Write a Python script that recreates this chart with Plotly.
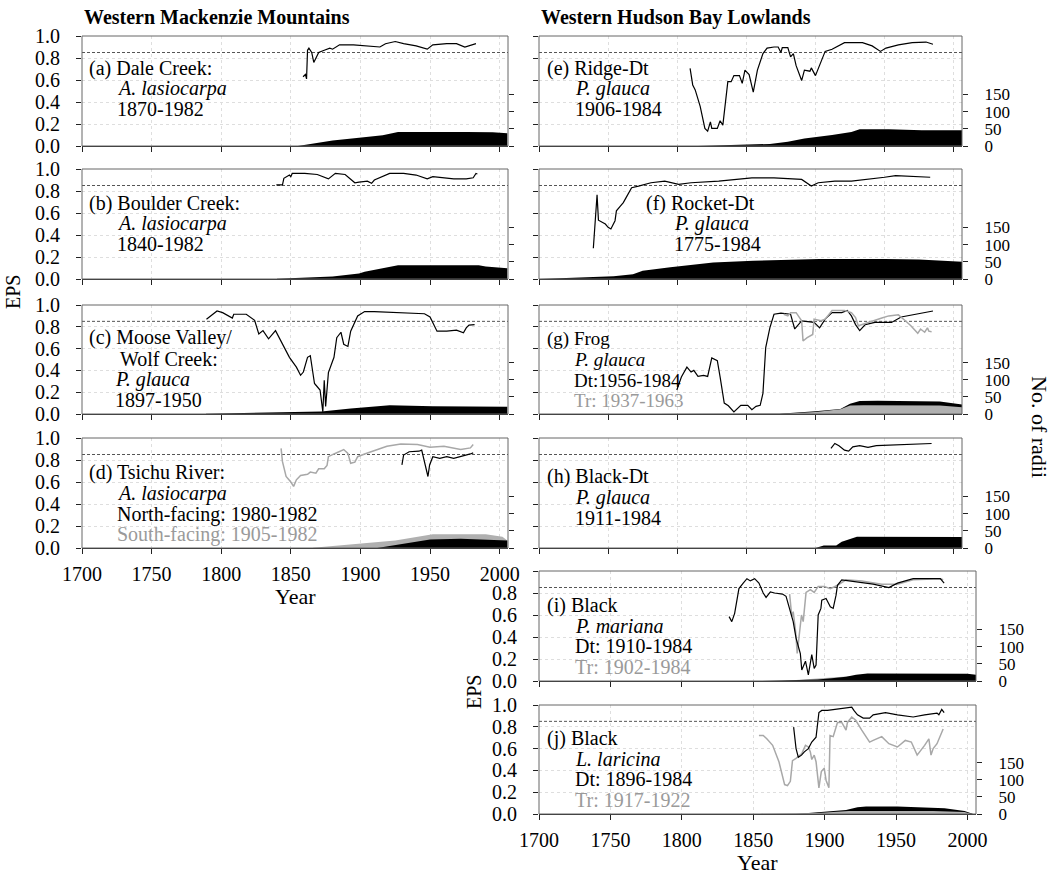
import plotly.graph_objects as go

W, H = 1055, 878
FONT = "Liberation Serif, Times New Roman, serif"

# ---------------- data ----------------
X_TICKS = [1700, 1750, 1800, 1850, 1900, 1950, 2000]
EPS_TICKS = [0.0, 0.2, 0.4, 0.6, 0.8, 1.0]
RADII_TICKS = [0, 50, 100, 150]
THRESHOLD = 0.85

# (a) Dale Creek
yrs_a = [1858.8, 1860.5, 1861.3, 1862, 1863, 1865, 1866.5, 1868, 1870, 1874, 1878, 1880, 1885, 1895, 1905,
         1914, 1918, 1925, 1931, 1940, 1948, 1952, 1962, 1969, 1975, 1983]
eps_a = [0.63, 0.65, 0.61, 0.87, 0.89, 0.85, 0.76, 0.80, 0.85, 0.87, 0.89, 0.88, 0.92, 0.92, 0.91,
         0.90, 0.93, 0.95, 0.93, 0.91, 0.88, 0.92, 0.93, 0.93, 0.90, 0.93]
ryrs_a = [1855, 1868, 1880, 1899, 1916, 1927, 1950, 1976, 1995, 2005.5]
radii_a = [0, 9, 16, 24, 31, 41, 42, 41, 40, 37]

# (b) Boulder Creek
yrs_b = [1839.6, 1844, 1845, 1849, 1850, 1851, 1860, 1869, 1877, 1882, 1889, 1894, 1896, 1899, 1905, 1908,
         1910, 1921, 1931, 1940, 1948, 1952, 1967, 1976, 1981, 1983, 1984]
eps_b = [0.855, 0.855, 0.915, 0.945, 0.93, 0.96, 0.96, 0.95, 0.91, 0.96, 0.95, 0.90, 0.875, 0.88, 0.89, 0.87,
         0.90, 0.96, 0.96, 0.945, 0.91, 0.93, 0.91, 0.91, 0.92, 0.96, 0.955]
ryrs_b = [1840, 1880, 1899, 1903, 1927, 1985, 1990, 2005.5]
radii_b = [1, 7, 16, 21, 40, 40, 36, 31]

# (c) Moose Valley / Wolf Creek
yrs_c = [1789.4, 1797, 1801, 1808, 1809, 1818, 1824, 1827, 1830, 1834, 1839, 1844, 1849, 1854, 1857, 1859,
         1862, 1864, 1865, 1867, 1869, 1871, 1873, 1874, 1875, 1877, 1881, 1883, 1886, 1888, 1891, 1893,
         1898, 1903, 1910, 1929, 1946, 1950, 1955, 1962, 1969, 1974, 1976, 1978, 1982]
eps_c = [0.87, 0.945, 0.93, 0.88, 0.915, 0.915, 0.86, 0.735, 0.765, 0.69, 0.765, 0.64, 0.52, 0.43, 0.355, 0.385,
         0.52, 0.535, 0.45, 0.28, 0.25, 0.22, 0.02, 0.31, 0.07, 0.38, 0.52, 0.70, 0.75, 0.64, 0.62, 0.76,
         0.90, 0.94, 0.94, 0.93, 0.92, 0.89, 0.76, 0.76, 0.77, 0.745, 0.79, 0.815, 0.82]
ryrs_c = [1789, 1836, 1872, 1893, 1921, 1952, 2005.5]
radii_c = [1, 5, 7, 16, 26, 23, 21]

# (d) Tsichu River
yrs_d_south = [1843, 1844, 1846.6, 1850, 1852, 1854, 1857, 1862, 1864, 1868, 1870, 1874, 1876, 1877, 1881,
               1888, 1891, 1893, 1896, 1898, 1903, 1912, 1919, 1929, 1941, 1950, 1960, 1972, 1979, 1981]
eps_d_south = [0.905, 0.785, 0.65, 0.60, 0.56, 0.62, 0.66, 0.67, 0.69, 0.68, 0.72, 0.72, 0.75, 0.83, 0.855,
               0.895, 0.86, 0.77, 0.78, 0.83, 0.855, 0.895, 0.925, 0.945, 0.94, 0.915, 0.925, 0.895, 0.91, 0.94]
yrs_d_north = [1929.8, 1931, 1935, 1942, 1944, 1946, 1948.5, 1949.7, 1952, 1957, 1962, 1967, 1972, 1979, 1981]
eps_d_north = [0.755, 0.845, 0.875, 0.88, 0.89, 0.785, 0.65, 0.755, 0.83, 0.815, 0.83, 0.815, 0.83, 0.855, 0.865]
ryrs_d_south = [1866, 1903, 1925, 1952, 1990, 2002, 2005.5]
radii_d_south = [1, 14, 22, 40, 40, 33, 22]
ryrs_d_north = [1912, 1925, 1941, 1950, 1972, 1990, 2005.5]
radii_d_north = [0, 8, 19, 25, 27, 25, 22]

# (e) Ridge-Dt
yrs_e = [1809.3, 1811.2, 1813, 1816.6, 1820, 1822, 1824, 1825, 1829, 1831, 1833, 1835, 1836.6, 1839, 1841, 1845,
         1847, 1849, 1852, 1855, 1858, 1862, 1865, 1870, 1873, 1875, 1876, 1880, 1882, 1884, 1886, 1890,
         1892, 1896, 1897, 1900, 1903, 1907, 1912, 1921, 1934, 1941, 1947, 1951, 1960, 1970, 1980, 1985]
eps_e = [0.705, 0.555, 0.51, 0.36, 0.16, 0.135, 0.22, 0.16, 0.16, 0.23, 0.19, 0.42, 0.585, 0.585, 0.64, 0.64,
         0.57, 0.69, 0.65, 0.49, 0.69, 0.84, 0.89, 0.90, 0.90, 0.85, 0.895, 0.895, 0.81, 0.84, 0.73, 0.595,
         0.69, 0.68, 0.71, 0.64, 0.73, 0.86, 0.88, 0.94, 0.94, 0.91, 0.86, 0.89, 0.92, 0.94, 0.945, 0.925]
ryrs_e = [1815, 1867, 1880, 1892, 1912, 1921, 1926, 1932, 1953, 1977, 2006]
radii_e = [0, 6, 12, 22, 32, 37, 41, 49, 49, 46, 46]

# (f) Rocket-Dt
yrs_f = [1739.3, 1742, 1743, 1745, 1748, 1750, 1752, 1755, 1756, 1759, 1761, 1763, 1767, 1772, 1781, 1791,
         1801, 1810, 1830, 1854, 1870, 1890, 1897, 1902, 1914, 1926, 1938, 1950, 1958, 1970, 1983]
eps_f = [0.28, 0.765, 0.535, 0.52, 0.50, 0.47, 0.455, 0.53, 0.62, 0.665, 0.695, 0.74, 0.83, 0.845, 0.875, 0.89,
         0.86, 0.875, 0.89, 0.92, 0.92, 0.905, 0.845, 0.875, 0.89, 0.89, 0.905, 0.925, 0.94, 0.935, 0.925]
ryrs_f = [1700, 1734, 1754, 1768, 1775, 1795, 1826, 1855, 1903, 1950, 1975, 2006]
radii_f = [0, 5, 8, 14, 24, 34, 48, 53, 58, 58, 57, 50]

# (g) Frog
yrs_g_dt = [1799.7, 1803, 1807, 1810, 1812, 1815, 1819, 1822, 1825, 1829, 1831, 1834, 1837, 1841, 1846, 1851,
            1854, 1857, 1860, 1862, 1864, 1867, 1870, 1875, 1882, 1885, 1890, 1899, 1903, 1907, 1912, 1919,
            1923, 1926, 1929, 1932, 1936, 1943, 1948, 1955, 1962, 1974, 1985]
eps_g_dt = [0.22, 0.34, 0.43, 0.385, 0.40, 0.345, 0.355, 0.345, 0.515, 0.49, 0.34, 0.10, 0.075, 0.02, 0.08, 0.08,
            0.04, 0.07, 0.08, 0.19, 0.61, 0.79, 0.915, 0.925, 0.915, 0.78, 0.855, 0.84, 0.79, 0.87, 0.93, 0.93,
            0.95, 0.90, 0.82, 0.765, 0.82, 0.84, 0.84, 0.84, 0.89, 0.92, 0.945]
yrs_g_tr = [1877, 1880, 1882, 1886, 1890, 1891, 1894, 1898, 1899, 1904, 1907, 1912, 1921, 1926, 1929, 1931,
            1936, 1943, 1948, 1953, 1960, 1965, 1969, 1974, 1976, 1979, 1981, 1982, 1984]
eps_g_tr = [0.915, 0.90, 0.93, 0.93, 0.855, 0.67, 0.70, 0.73, 0.87, 0.855, 0.87, 0.95, 0.95, 0.93, 0.885, 0.81,
            0.83, 0.855, 0.88, 0.90, 0.91, 0.855, 0.81, 0.74, 0.78, 0.75, 0.79, 0.76, 0.755]
ryrs_g_dt = [1780, 1874, 1900, 1918, 1925, 1932, 1945, 1990, 2006]
radii_g_dt = [0, 1, 8, 15, 30, 38, 39, 37, 28]
ryrs_g_tr = [1874, 1900, 1918, 1925, 1935, 1990, 2006]
radii_g_tr = [0, 6, 14, 25, 26, 25, 20]

# (h) Black-Dt
yrs_h = [1911.2, 1914, 1917, 1921, 1924, 1927, 1932, 1938, 1944, 1963, 1984]
eps_h = [0.905, 0.95, 0.93, 0.89, 0.88, 0.92, 0.93, 0.915, 0.93, 0.94, 0.95]
ryrs_h = [1900, 1906, 1915, 1919, 1930, 2000, 2006]
radii_h = [0, 7, 7, 18, 33, 32, 32]

# (i) Black, P. mariana
yrs_i_dt = [1833.1, 1835, 1837, 1840, 1843, 1845.6, 1848, 1851, 1854, 1857, 1859, 1862, 1865, 1870.5, 1873,
            1876, 1878, 1880, 1883, 1884, 1886.6, 1888.6, 1890, 1891, 1892.7, 1894, 1895.5, 1897.4, 1898,
            1901, 1904, 1906, 1908, 1909, 1912, 1917.7, 1926, 1934, 1945, 1951, 1962, 1973, 1981, 1983.7]
eps_i_dt = [0.585, 0.54, 0.615, 0.84, 0.89, 0.93, 0.91, 0.93, 0.89, 0.80, 0.76, 0.81, 0.80, 0.79, 0.77,
            0.63, 0.54, 0.39, 0.25, 0.10, 0.18, 0.055, 0.145, 0.24, 0.115, 0.145, 0.60, 0.66, 0.735,
            0.75, 0.675, 0.66, 0.78, 0.87, 0.92, 0.91, 0.89, 0.88, 0.85, 0.89, 0.93, 0.93, 0.93, 0.89]
yrs_i_tr = [1875.5, 1877, 1878, 1879.7, 1880.8, 1882, 1883.8, 1885, 1885.8, 1887, 1890, 1892.7, 1895.5,
            1899.7, 1904, 1909, 1915, 1926, 1940, 1951, 1962, 1981, 1983]
eps_i_tr = [0.79, 0.585, 0.63, 0.45, 0.25, 0.39, 0.60, 0.54, 0.63, 0.805, 0.83, 0.805, 0.86,
            0.86, 0.84, 0.87, 0.92, 0.91, 0.88, 0.88, 0.92, 0.93, 0.92]
ryrs_i_dt = [1855, 1880, 1895, 1905, 1915, 1922, 1930, 2000, 2006]
radii_i_dt = [0, 2, 4, 8, 12, 18, 22, 21, 18]
ryrs_i_tr = [1870, 1890, 1900, 1915, 1925, 1950, 2000, 2006]
radii_i_tr = [0, 6, 10, 14, 16, 17, 16, 14]

# (j) Black, L. laricina
yrs_j_dt = [1878.3, 1880, 1881.6, 1883.8, 1885.8, 1888.6, 1891, 1892.7, 1894, 1896, 1898, 1902, 1906.6, 1912,
            1919, 1920.5, 1923, 1927, 1931.5, 1934, 1942.6, 1951, 1962, 1970, 1978.7, 1980, 1982, 1983.7]
eps_j_dt = [0.797, 0.60, 0.52, 0.54, 0.57, 0.60, 0.66, 0.69, 0.705, 0.93, 0.95, 0.95, 0.96, 0.97,
            0.98, 0.95, 0.91, 0.88, 0.88, 0.91, 0.93, 0.91, 0.89, 0.91, 0.925, 0.91, 0.96, 0.93]
yrs_j_tr = [1854, 1857, 1859.5, 1863.6, 1868, 1872, 1874, 1876, 1877.5, 1880, 1884, 1886.6, 1888.6, 1890, 1891,
            1892.7, 1894, 1896, 1897.7, 1899.7, 1901, 1903, 1903.8, 1906, 1909, 1912, 1915, 1916, 1919, 1921.8,
            1926, 1931.5, 1934, 1940, 1945, 1951, 1956.5, 1960.7, 1964.8, 1967.6, 1970, 1973, 1974.5, 1976,
            1978.7, 1983]
eps_j_tr = [0.72, 0.72, 0.69, 0.63, 0.48, 0.27, 0.26, 0.30, 0.49, 0.51, 0.555, 0.63, 0.615, 0.57, 0.50,
            0.54, 0.48, 0.24, 0.39, 0.42, 0.31, 0.24, 0.72, 0.71, 0.84, 0.84, 0.77, 0.84, 0.89, 0.86,
            0.77, 0.66, 0.675, 0.71, 0.645, 0.615, 0.675, 0.66, 0.54, 0.585, 0.63, 0.69, 0.54, 0.60,
            0.645, 0.78]
ryrs_j_dt = [1880, 1915, 1923, 1929, 1951, 1984, 1998, 2002, 2004]
radii_j_dt = [0, 12, 20, 22, 22, 17, 9, 3, 0]
ryrs_j_tr = [1855, 1895, 1906, 1917, 1934, 1976, 1998, 2002, 2003]
radii_j_tr = [1, 3, 6, 9, 9, 9, 6, 1, 0]

# ---------------- styling / layout ----------------
BLACK = "#000000"
GREY_LINE = "#a8a8a8"
GREY_FILL = "#b0b0b0"
GREY_TEXT = "#9a9a9a"
GRID = "#dedede"

COLS = {"L": (82, 508), "R": (539, 962), "R2": (539, 976)}
ROWS = [(36, 146), (169, 279), (305, 414), (438, 548), (571, 681), (705, 814)]

panels = [
    dict(col="L", row=0, eps=[(yrs_a, eps_a, BLACK)], fills=[(ryrs_a, radii_a, BLACK)], off=32, lx=5, fs=20,
         text=[("(a) Dale Creek:", 0, BLACK), ("<i>A. lasiocarpa</i>", 28, BLACK), ("1870-1982", 28, BLACK)]),
    dict(col="L", row=1, eps=[(yrs_b, eps_b, BLACK)], fills=[(ryrs_b, radii_b, BLACK)], off=34, lx=5, fs=20,
         text=[("(b) Boulder Creek:", 0, BLACK), ("<i>A. lasiocarpa</i>", 28, BLACK), ("1840-1982", 28, BLACK)]),
    dict(col="L", row=2, eps=[(yrs_c, eps_c, BLACK)], fills=[(ryrs_c, radii_c, BLACK)], off=33, lx=5, fs=20,
         text=[("(c) Moose Valley/", 0, BLACK), ("Wolf Creek:", 31, BLACK), ("<i>P. glauca</i>", 26, BLACK),
               ("1897-1950", 26, BLACK)]),
    dict(col="L", row=3, eps=[(yrs_d_south, eps_d_south, GREY_LINE), (yrs_d_north, eps_d_north, BLACK)],
         fills=[(ryrs_d_south, radii_d_south, GREY_FILL), (ryrs_d_north, radii_d_north, BLACK)], off=35, lx=5,
         fs=20,
         text=[("(d) Tsichu River:", 0, BLACK), ("<i>A. lasiocarpa</i>", 28, BLACK),
               ("North-facing: 1980-1982", 28, BLACK), ("South-facing: 1905-1982", 28, GREY_TEXT)]),
    dict(col="R", row=0, eps=[(yrs_e, eps_e, BLACK)], fills=[(ryrs_e, radii_e, BLACK)], off=32, lx=6, fs=20,
         text=[("(e) Ridge-Dt", 0, BLACK), ("<i>P. glauca</i>", 28, BLACK), ("1906-1984", 28, BLACK)]),
    dict(col="R", row=1, eps=[(yrs_f, eps_f, BLACK)], fills=[(ryrs_f, radii_f, BLACK)], off=34, lx=105, fs=20,
         text=[("(f) Rocket-Dt", 0, BLACK), ("<i>P. glauca</i>", 28, BLACK), ("1775-1984", 28, BLACK)]),
    dict(col="R", row=2, eps=[(yrs_g_dt, eps_g_dt, BLACK), (yrs_g_tr, eps_g_tr, GREY_LINE)],
         fills=[(ryrs_g_dt, radii_g_dt, BLACK), (ryrs_g_tr, radii_g_tr, GREY_FILL)], off=34, lx=6, fs=19,
         text=[("(g) Frog", 0, BLACK), ("<i>P. glauca</i>", 27, BLACK), ("Dt:1956-1984", 27, BLACK),
               ("Tr: 1937-1963", 27, GREY_TEXT)]),
    dict(col="R", row=3, eps=[(yrs_h, eps_h, BLACK)], fills=[(ryrs_h, radii_h, BLACK)], off=39, lx=6, fs=20,
         text=[("(h) Black-Dt", 0, BLACK), ("<i>P. glauca</i>", 28, BLACK), ("1911-1984", 28, BLACK)]),
    dict(col="R2", row=4, eps=[(yrs_i_tr, eps_i_tr, GREY_LINE), (yrs_i_dt, eps_i_dt, BLACK)],
         fills=[(ryrs_i_tr, radii_i_tr, GREY_FILL), (ryrs_i_dt, radii_i_dt, BLACK)], off=34, lx=6, fs=20,
         text=[("(i) Black", 0, BLACK), ("<i>P. mariana</i>", 28, BLACK), ("Dt: 1910-1984", 28, BLACK),
               ("Tr: 1902-1984", 28, GREY_TEXT)]),
    dict(col="R2", row=5, eps=[(yrs_j_tr, eps_j_tr, GREY_LINE), (yrs_j_dt, eps_j_dt, BLACK)],
         fills=[(ryrs_j_dt, radii_j_dt, BLACK), (ryrs_j_tr, radii_j_tr, GREY_FILL)], off=33, lx=6, fs=20,
         text=[("(j) Black", 0, BLACK), ("<i>L. laricina</i>", 28, BLACK), ("Dt: 1896-1984", 28, BLACK),
               ("Tr: 1917-1922", 28, GREY_TEXT)]),
]


def fx(p):
    return p / W


def fy(p):
    return 1 - p / H


def sfx(i):
    return "" if i == 1 else str(i)


fig = go.Figure()
layout = dict(width=W, height=H, margin=dict(l=0, r=0, t=0, b=0, autoexpand=False), showlegend=False,
              template="none",
              plot_bgcolor="white", paper_bgcolor="white", font=dict(family=FONT, color="black", size=20))
shapes = []
annotations = []

for k, p in enumerate(panels):
    xi, yr, ye = k + 1, 2 * k + 1, 2 * k + 2
    xref, yrref, yeref = "x" + sfx(xi), "y" + sfx(yr), "y" + sfx(ye)
    x0, x1 = COLS[p["col"]]
    top, bot = ROWS[p["row"]]
    show_x_labels = k in (3, 9)
    show_eps_labels = p["col"] in ("L", "R2")
    show_radii_labels = p["col"] in ("R", "R2")

    eps_text = ["%.1f" % v for v in EPS_TICKS]
    if k == 8:
        eps_text[-1] = ""  # hidden behind the 2000 label in the original

    layout["xaxis" + sfx(xi)] = dict(
        domain=[fx(x0), fx(x1)], range=[1700, 2006], anchor=yrref, tickvals=X_TICKS, automargin=False,
        ticks="outside", ticklen=5, tickcolor="#222", showticklabels=show_x_labels,
        tickfont=dict(family=FONT, size=20), ticklabelstandoff=3,
        showgrid=True, gridcolor=GRID, griddash="dot", gridwidth=1,
        showline=True, linecolor="#222", linewidth=1, zeroline=False, fixedrange=True)
    layout["yaxis" + sfx(yr)] = dict(
        domain=[fy(bot), fy(top)], range=[0, 320], anchor=xref, side="right", automargin=False,
        tickvals=RADII_TICKS, ticks="outside", ticklen=5, tickcolor="#222",
        showticklabels=show_radii_labels, tickfont=dict(family=FONT, size=17), ticklabelstandoff=13,
        showgrid=False, zeroline=False, showline=False)
    layout["yaxis" + sfx(ye)] = dict(
        overlaying=yrref, anchor=xref, side="left", range=[0, 1], automargin=False,
        tickvals=EPS_TICKS, ticktext=eps_text, ticks="outside", ticklen=5, tickcolor="#222",
        showticklabels=show_eps_labels, tickfont=dict(family=FONT, size=20), ticklabelstandoff=12,
        showgrid=True, gridcolor=GRID, griddash="dot", gridwidth=1,
        zeroline=False, showline=False)

    for (xs, ys, c) in p["fills"]:
        fig.add_trace(go.Scatter(x=xs, y=ys, xaxis=xref, yaxis=yrref, mode="lines", fill="tozeroy",
                                 fillcolor=c, line=dict(width=0, color=c), hoverinfo="skip"))
    for (xs, ys, c) in p["eps"]:
        fig.add_trace(go.Scatter(x=xs, y=ys, xaxis=xref, yaxis=yeref, mode="lines",
                                 line=dict(width=1.2 if c == BLACK else 1.5, color=c), hoverinfo="skip"))

    shapes.append(dict(type="line", xref=xref + " domain", yref=yeref, x0=0, x1=1,
                       y0=THRESHOLD, y1=THRESHOLD, line=dict(color="#555", width=1, dash="3px,2px"),
                       layer="below"))
    shapes.append(dict(type="rect", xref=xref + " domain", yref=yrref + " domain", x0=0, x1=1, y0=0, y1=1,
                       line=dict(color="#666", width=1), layer="above"))

    for li, (txt, ind, col) in enumerate(p["text"]):
        annotations.append(dict(text=txt, xref="paper", yref="paper",
                                x=fx(x0 + p["lx"] + ind), y=fy(top + p["off"] + 20.5 * li),
                                xanchor="left", yanchor="middle", showarrow=False,
                                font=dict(family=FONT, size=p["fs"], color=col)))

# titles and axis titles
annotations += [
    dict(text="<b>Western Mackenzie Mountains</b>", x=fx(82), y=fy(17), xref="paper", yref="paper",
         xanchor="left", yanchor="middle", showarrow=False, font=dict(family=FONT, size=20)),
    dict(text="<b>Western Hudson Bay Lowlands</b>", x=fx(539), y=fy(17), xref="paper", yref="paper",
         xanchor="left", yanchor="middle", showarrow=False, font=dict(family=FONT, size=20)),
    dict(text="EPS", x=fx(13), y=fy(292), xref="paper", yref="paper", textangle=-90,
         xanchor="center", yanchor="middle", showarrow=False, font=dict(family=FONT, size=20)),
    dict(text="EPS", x=fx(474), y=fy(692), xref="paper", yref="paper", textangle=-90,
         xanchor="center", yanchor="middle", showarrow=False, font=dict(family=FONT, size=20)),
    dict(text="Year", x=fx(295), y=fy(596), xref="paper", yref="paper",
         xanchor="center", yanchor="middle", showarrow=False, font=dict(family=FONT, size=22)),
    dict(text="Year", x=fx(757), y=fy(862), xref="paper", yref="paper",
         xanchor="center", yanchor="middle", showarrow=False, font=dict(family=FONT, size=22)),
    dict(text="No. of radii", x=fx(1040), y=fy(427), xref="paper", yref="paper", textangle=90,
         xanchor="center", yanchor="middle", showarrow=False, font=dict(family=FONT, size=22)),
]

layout["shapes"] = shapes
layout["annotations"] = annotations
fig.update_layout(**layout)
fig.write_html("out.html")
